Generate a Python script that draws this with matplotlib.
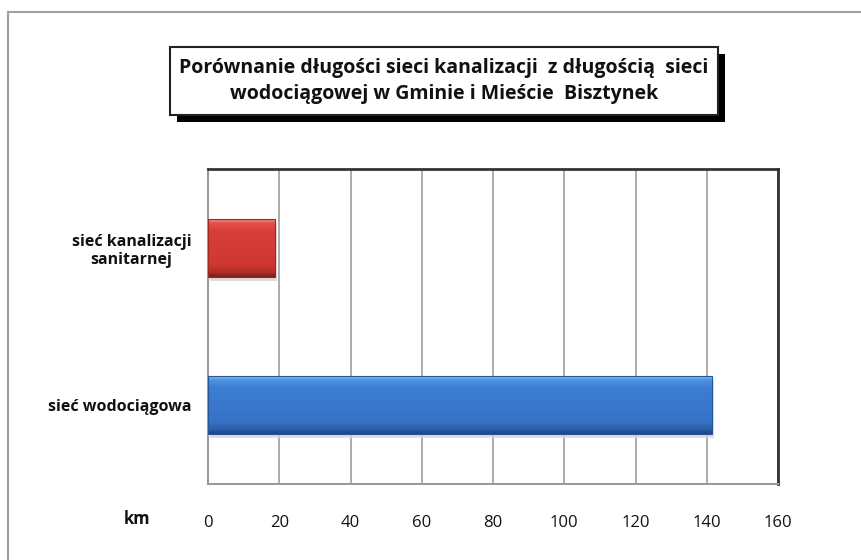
import matplotlib
matplotlib.use("Agg")
import matplotlib.pyplot as plt
import numpy as np
from matplotlib.patches import Rectangle
from matplotlib.colors import LinearSegmentedColormap

plt.rcParams['font.family'] = ['Open Sans', 'DejaVu Sans']

categories = ["sieć wodociągowa", "sieć kanalizacji\nsanitarnej"]
values = [141.5, 18.8]
xticks = [0, 20, 40, 60, 80, 100, 120, 140, 160]
title = "Porównanie długości sieci kanalizacji  z długością  sieci\nwodociągowej w Gminie i Mieście  Bisztynek"
unit = "km"

W, H = 861, 560
fig = plt.figure(figsize=(W / 100, H / 100), dpi=100)
fig.patch.set_facecolor("white")

# outer chart border
fig.add_artist(Rectangle((8 / W, -0.05), 1.1, 1 - 12 / H + 0.05, transform=fig.transFigure,
                         fill=False, edgecolor="#a0a0a0", linewidth=1.5))

ax = fig.add_axes([208 / W, 76 / H, 570 / W, 315 / H])
ax.set_xlim(0, 160)
ax.set_ylim(-0.5, 1.5)

ax.xaxis.grid(True, color="#a6a6a6", linewidth=1.3)
ax.set_axisbelow(True)

bars = ax.barh(range(len(values)), values, height=0.37, color="none", edgecolor="none", zorder=3)

cmaps = [
    LinearSegmentedColormap.from_list("b", [(0, "#8cc6f4"), (0.08, "#4f93de"), (0.2, "#3d7fd3"),
                                            (0.8, "#3672c6"), (0.92, "#2c5fa8"), (1, "#1d4682")]),
    LinearSegmentedColormap.from_list("r", [(0, "#f29a94"), (0.08, "#e4514c"), (0.2, "#da3f3a"),
                                            (0.8, "#d03733"), (0.92, "#b22e2a"), (1, "#7e1f1c")]),
]
for bar, cm in zip(bars, cmaps):
    x0, y0 = bar.get_x(), bar.get_y()
    w, h = bar.get_width(), bar.get_height()
    grad = np.linspace(1, 0, 100).reshape(-1, 1)
    # shadow
    ax.add_patch(Rectangle((x0 + 0.6, y0 - 0.025), w, h, facecolor="#d4d4d4", edgecolor="none",
                           zorder=2, alpha=0.8))
    im = ax.imshow(grad, cmap=cm, aspect="auto", extent=(x0, x0 + w, y0, y0 + h),
                   origin="lower", zorder=4, vmin=0, vmax=1)
    im.set_clip_path(bar)
    ax.add_patch(Rectangle((x0, y0), w, h, facecolor="none", edgecolor=cm(0.95), linewidth=0.8, zorder=5))

ax.set_xticks(xticks)
ax.set_xticklabels([str(t) for t in xticks], fontsize=12, color="#111111")
ax.tick_params(axis="x", length=0, pad=22)
ax.set_yticks(range(len(categories)))
ax.set_yticklabels(categories, fontsize=11.5, fontweight="bold", color="#111111",
                   multialignment="center")
ax.tick_params(axis="y", length=0, pad=12)

for s in ["left", "bottom"]:
    ax.spines[s].set_color("#9a9a9a")
    ax.spines[s].set_linewidth(1.5)
for s in ["top", "right"]:
    ax.spines[s].set_color("#333333")
    ax.spines[s].set_linewidth(2)

fig.text(137 / W, 1 - 519 / H, unit, fontsize=12, fontweight="bold", ha="center", va="center", color="#111111")

# title box with shadow
bx0, by0, bx1, by1 = 170, 47, 718, 115
fig.add_artist(Rectangle(((bx0 + 7) / W, 1 - (by1 + 7) / H), (bx1 - bx0) / W, (by1 - by0) / H,
                         transform=fig.transFigure, facecolor="black", edgecolor="none", zorder=5))
fig.add_artist(Rectangle((bx0 / W, 1 - by1 / H), (bx1 - bx0) / W, (by1 - by0) / H,
                         transform=fig.transFigure, facecolor="white", edgecolor="#222222",
                         linewidth=1.5, zorder=6))
fig.text((bx0 + bx1) / 2 / W, 1 - (by0 + by1) / 2 / H, title, fontsize=14, fontweight="bold",
         ha="center", va="center", color="#111111", linespacing=1.4, zorder=7)

fig.savefig("out.png", dpi=100)
